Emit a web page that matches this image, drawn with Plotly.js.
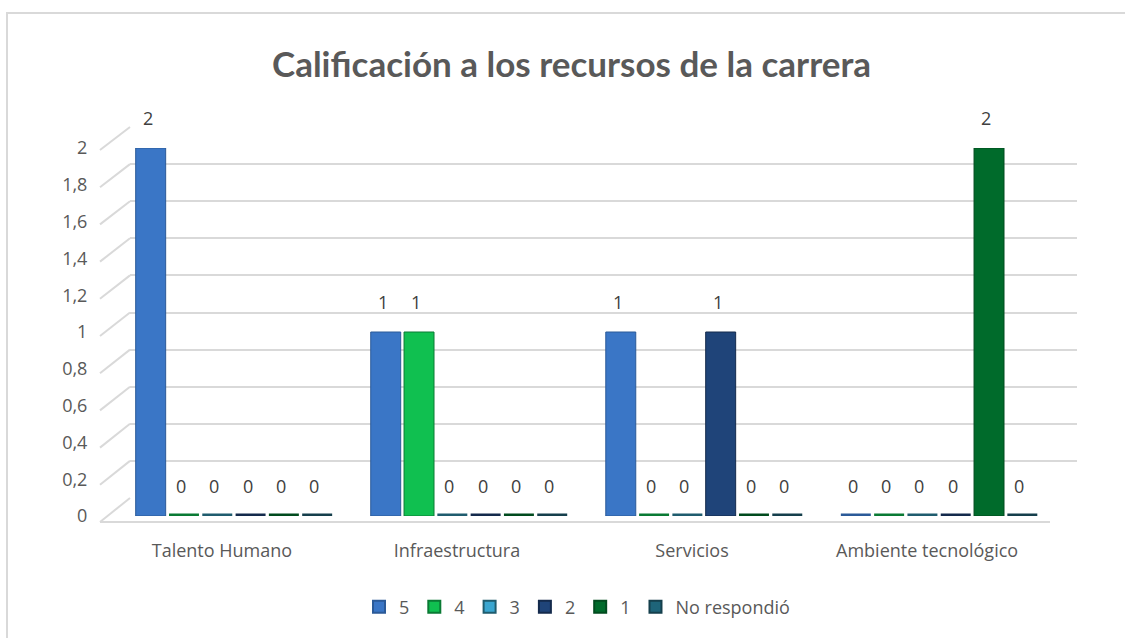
<!DOCTYPE html>
<html>
<head>
<meta charset="utf-8">
<script src="https://cdn.plot.ly/plotly-3.0.1.min.js"></script>
<style>html,body{margin:0;padding:0;background:#fff;}</style>
</head>
<body>
<div id="chart" style="width:1125px;height:638px;"></div>
<script>
// ---- data ----
const categories = ['Talento Humano', 'Infraestructura', 'Servicios', 'Ambiente tecnológico'];
const seriesNames = ['5', '4', '3', '2', '1', 'No respondió'];
const values5  = [2, 1, 1, 0];
const values4  = [0, 1, 0, 0];
const values3  = [0, 0, 0, 0];
const values2  = [0, 0, 1, 0];
const values1  = [0, 0, 0, 2];
const valuesNR = [0, 0, 0, 0];
const yTicks = [0, 0.2, 0.4, 0.6, 0.8, 1, 1.2, 1.4, 1.6, 1.8, 2];

// ---- styles ----
const frontColors = ['#3a76c6', '#10c050', '#3aa6d0', '#1f4479', '#006b2b', '#1e6479'];
const edgeColors  = ['#2b5a98', '#0a7a34', '#1f5c6e', '#142a4c', '#014b1e', '#153f4c'];
const FONT = '"Open Sans", sans-serif';
const TITLE_FONT = 'Lato, "Open Sans", sans-serif';
const allSeries = [values5, values4, values3, values2, values1, valuesNR];

const bargap = 0.15, bargroupgap = 0.1;
const slot = (1 - bargap) / allSeries.length;

const traces = [];
// invisible trace for the back-wall grid subplot
traces.push({type: 'scatter', x: [0], y: [0], xaxis: 'x', yaxis: 'y',
  mode: 'markers', marker: {opacity: 0}, showlegend: false, hoverinfo: 'skip'});
// legend entries (on the back-wall subplot so they do not take bar slots)
seriesNames.forEach((name, s) => {
  traces.push({type: 'bar', name: name, x: [null], y: [null], xaxis: 'x', yaxis: 'y',
    legendgroup: 'g' + s, showlegend: true, hoverinfo: 'skip',
    marker: {color: frontColors[s], line: {color: edgeColors[s], width: 2}}});
});
// bars
allSeries.forEach((vals, s) => {
  traces.push({
    type: 'bar',
    name: seriesNames[s],
    x: categories.map((c, i) => i),
    y: vals,
    xaxis: 'x2', yaxis: 'y2',
    legendgroup: 'g' + s, showlegend: false,
    marker: {color: frontColors[s],
      line: {color: edgeColors[s], width: vals.map(v => v === 0 ? 5 : 1)}},
    hoverinfo: 'skip'
  });
});

// value labels
const annotations = [];
allSeries.forEach((vals, s) => {
  vals.forEach((v, i) => {
    annotations.push({
      x: i - (1 - bargap) / 2 + (s + 0.5) * slot, y: v, xref: 'x2', yref: 'y2',
      text: String(v), showarrow: false, yshift: 30, xshift: -3,
      font: {family: FONT, size: 18, color: '#404040'}
    });
  });
});

// 3D floor / side-wall lines (decoration)
const shapes = [];
yTicks.forEach(v => {
  shapes.push({type: 'line', xref: 'paper', yref: 'paper', layer: 'below',
    x0: 0, x1: 30 / 977, y0: 186 * v / 395, y1: (24 + 185.5 * v) / 395,
    line: {color: '#d9d9d9', width: 2}});
});
shapes.push({type: 'line', xref: 'paper', yref: 'paper', layer: 'below',
  x0: 0, x1: 950 / 977, y0: 0, y1: 0, line: {color: '#d9d9d9', width: 2}});
// outer frame
shapes.push({type: 'rect', xref: 'paper', yref: 'paper', layer: 'below',
  x0: -93 / 977, x1: 1.2, y0: (522 - 13) / 395, y1: -0.5,
  line: {color: '#d9d9d9', width: 2}, fillcolor: 'rgba(0,0,0,0)'});

const layout = {
  width: 1125, height: 638,
  paper_bgcolor: '#ffffff', plot_bgcolor: 'rgba(0,0,0,0)',
  margin: {l: 100, r: 48, t: 127, b: 116},
  separators: ',.',
  title: {text: '<b>Calificación a los recursos de la carrera</b>',
    font: {family: TITLE_FONT, size: 35, color: '#595959'},
    x: 0.508, xanchor: 'center', y: 1 - 65 / 638, yanchor: 'middle'},
  barmode: 'group', bargap: bargap, bargroupgap: bargroupgap,
  showlegend: true,
  legend: {orientation: 'h', x: 477 / 977, xanchor: 'center', y: -0.215, yanchor: 'middle',
    font: {family: FONT, size: 18, color: '#595959'}, itemwidth: 30,
    traceorder: 'normal'},
  xaxis: {domain: [30 / 977, 1], range: [0, 1], showgrid: false, showticklabels: false,
    zeroline: false, showline: false, fixedrange: true},
  yaxis: {domain: [24 / 395, 1], range: [-0.002, 2.002], tickvals: yTicks, showgrid: true,
    gridcolor: '#d9d9d9', gridwidth: 2, showticklabels: false, zeroline: false,
    showline: false, fixedrange: true},
  xaxis2: {domain: [16.4 / 977, 956.6 / 977], anchor: 'y2', range: [-0.5, 3.5],
    tickvals: [0, 1, 2, 3], ticktext: categories, showgrid: false, zeroline: false,
    showline: false, ticks: '', ticklabelshift: -12, ticklabelstandoff: 22,
    tickfont: {family: FONT, size: 18, color: '#595959'}, fixedrange: true},
  yaxis2: {domain: [6 / 395, 374 / 395], anchor: 'x2', range: [0, 2], tickvals: yTicks,
    showgrid: false, zeroline: false, showline: false, ticks: '', ticklabelstandoff: 28,
    tickfont: {family: FONT, size: 18, color: '#595959'}, fixedrange: true},
  annotations: annotations,
  shapes: shapes
};

Plotly.newPlot('chart', traces, layout, {displayModeBar: false, staticPlot: true});
</script>
</body>
</html>
